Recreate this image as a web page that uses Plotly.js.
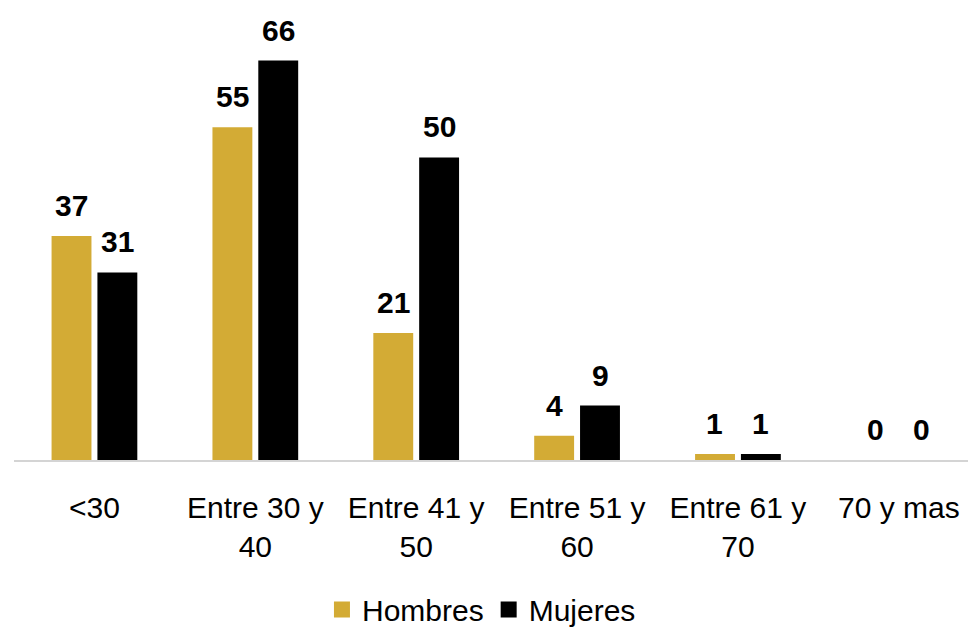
<!DOCTYPE html>
<html>
<head>
<meta charset="utf-8">
<script src="https://cdn.plot.ly/plotly-3.0.1.min.js"></script>
<style>html,body{margin:0;padding:0;background:#fff;}#chart{width:968px;height:636px;}</style>
</head>
<body>
<div id="chart"></div>
<script>
const categories = ["<30", "Entre 30 y<br>40", "Entre 41 y<br>50", "Entre 51 y<br>60", "Entre 61 y<br>70", "70 y mas"];
const seriesNames = ["Hombres", "Mujeres"];
const hombres = [37, 55, 21, 4, 1, 0];
const mujeres = [31, 66, 50, 9, 1, 0];
const colors = ["#D3AB35", "#000000"];

const FONT = "Liberation Sans, Arial, sans-serif";
const seriesValues = [hombres, mujeres];

const traces = [];
seriesValues.forEach((vals, s) => {
  traces.push({
    type: "bar", x: categories, y: vals, name: seriesNames[s],
    marker: {color: colors[s]}, showlegend: false, hoverinfo: "x+y"
  });
});
// legend-only markers (larger squares)
seriesValues.forEach((vals, s) => {
  traces.push({
    type: "scatter", mode: "markers", x: [null], y: [null], name: seriesNames[s],
    marker: {symbol: "square", size: 20, color: colors[s]}, showlegend: true
  });
});

const annotations = [];
seriesValues.forEach((vals, s) => {
  vals.forEach((v, i) => {
    annotations.push({
      x: categories[i], y: v, xref: "x", yref: "y",
      text: String(v), showarrow: false,
      xanchor: "center", yanchor: "bottom",
      xshift: s === 0 ? -23 : 23, yshift: 12,
      font: {family: FONT, size: 30, color: "#000", weight: "bold"}
    });
  });
});

const layout = {
  width: 968, height: 636,
  margin: {l: 14, r: 0, t: 20, b: 174},
  paper_bgcolor: "#fff", plot_bgcolor: "#fff",
  barmode: "group", bargap: 0.43, bargroupgap: 0.13,
  xaxis: {
    type: "category", range: [-0.5, 5.43], fixedrange: true,
    showline: true, linecolor: "#d4d4d4", linewidth: 2,
    showgrid: false, ticks: "", ticklabelstandoff: 20,
    tickfont: {family: FONT, size: 30, color: "#000"}
  },
  yaxis: {
    range: [0, 72.7], visible: false, showgrid: false, zeroline: false, fixedrange: true
  },
  legend: {
    orientation: "h", x: 0.49, xanchor: "center", y: -0.34, yanchor: "middle",
    font: {family: FONT, size: 30, color: "#000"}, itemsizing: "trace"
  },
  annotations: annotations,
  showlegend: true
};

Plotly.newPlot("chart", traces, layout, {displayModeBar: false, staticPlot: true});
</script>
</body>
</html>
